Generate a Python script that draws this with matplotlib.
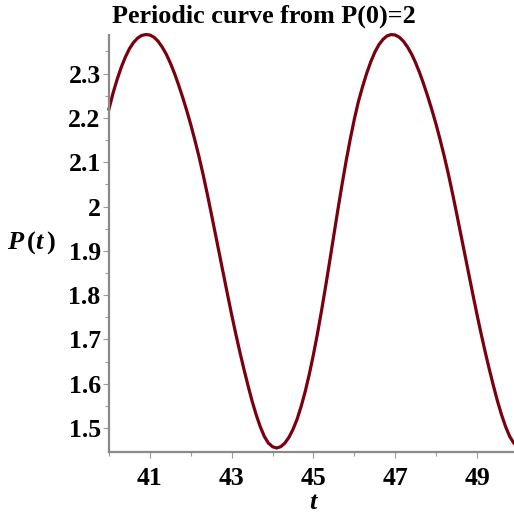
import numpy as np
import matplotlib.pyplot as plt
from matplotlib.ticker import FixedLocator

plt.rcParams['mathtext.fontset'] = 'custom'
plt.rcParams['mathtext.it'] = 'Liberation Serif:italic:bold'
plt.rcParams['mathtext.rm'] = 'Liberation Serif:bold'

# values, every 0.1 in t
t = np.linspace(40, 50, 101)
P = [2.220, 2.256, 2.287, 2.314, 2.337, 2.356, 2.370, 2.380, 2.386, 2.388,
     2.387, 2.382, 2.373, 2.360, 2.344, 2.324, 2.301, 2.275, 2.247, 2.217,
     2.185, 2.150, 2.113, 2.073, 2.030, 1.985, 1.939, 1.893, 1.847, 1.801,
     1.756, 1.713, 1.672, 1.633, 1.596, 1.561, 1.530, 1.503, 1.481, 1.466,
     1.458, 1.455, 1.458, 1.466, 1.479, 1.497, 1.520, 1.549, 1.583, 1.622,
     1.666, 1.714, 1.766, 1.821, 1.878, 1.936, 1.994, 2.050, 2.103, 2.152,
     2.197, 2.237, 2.270, 2.300, 2.326, 2.348, 2.365, 2.377, 2.385, 2.388,
     2.387, 2.382, 2.373, 2.360, 2.344, 2.324, 2.301, 2.275, 2.247, 2.217,
     2.185, 2.150, 2.113, 2.073, 2.030, 1.985, 1.939, 1.893, 1.847, 1.801,
     1.756, 1.713, 1.672, 1.633, 1.596, 1.561, 1.530, 1.503, 1.481, 1.466, 1.458]

xticks = [41, 43, 45, 47, 49]
xminor = [40, 42, 44, 46, 48, 50]
yticks = [1.5, 1.6, 1.7, 1.8, 1.9, 2.0, 2.1, 2.2, 2.3]
ylabels = ['1.5', '1.6', '1.7', '1.8', '1.9', '2', '2.1', '2.2', '2.3']
yminor = [1.55, 1.65, 1.75, 1.85, 1.95, 2.05, 2.15, 2.25, 2.35]

serif = 'Liberation Serif'
fig = plt.figure(figsize=(5.14, 5.14), dpi=100)
ax = fig.add_axes([0.212, 0.1206, 0.7956, 0.8113])

ax.plot(t, P, color='#7a0010', lw=2.3, clip_on=False, solid_joinstyle='round')

ax.set_xlim(40, 50)
ax.set_ylim(1.446, 2.387)

for s in ['top', 'right']:
    ax.spines[s].set_visible(False)
for s in ['left', 'bottom']:
    ax.spines[s].set_color('#8a8a8a')
    ax.spines[s].set_linewidth(1.6)

ax.set_xticks(xticks)
ax.set_xticklabels([str(v) for v in xticks])
ax.xaxis.set_minor_locator(FixedLocator(xminor))
ax.set_yticks(yticks)
ax.set_yticklabels(ylabels)
ax.yaxis.set_minor_locator(FixedLocator(yminor))
ax.tick_params(which='both', color='#9a9a9a', width=0.8)
ax.tick_params(which='major', length=4)
ax.tick_params(which='minor', length=3)
ax.tick_params(axis='x', pad=7)
ax.tick_params(axis='y', pad=2)
for lab in ax.get_xticklabels() + ax.get_yticklabels():
    lab.set_fontfamily(serif)
    lab.set_fontweight('bold')
    lab.set_fontsize(18.5)

fig.text(264 / 514, 1 - 16 / 514, 'Periodic curve from P(0)=2', ha='center', va='center',
         fontfamily=serif, fontweight='bold', fontsize=18.8)
fig.text(31 / 514, 1 - 243 / 514, r'$P\,(t\,)$', ha='center', va='center', fontsize=19)
fig.text(314 / 514, 1 - 502 / 514, r'$t$', ha='center', va='center', fontsize=19)

fig.savefig('out.png', dpi=100)
